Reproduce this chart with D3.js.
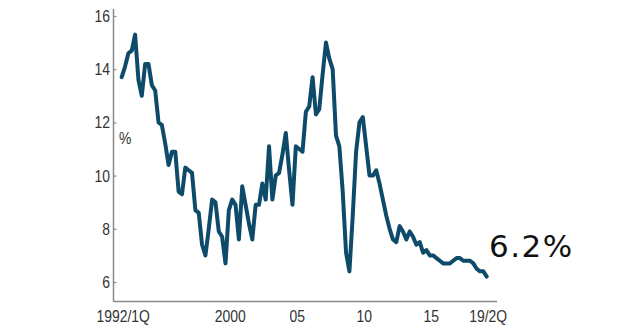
<!DOCTYPE html>
<html>
<head>
<meta charset="utf-8">
<script src="https://cdnjs.cloudflare.com/ajax/libs/d3/7.8.5/d3.min.js"></script>
<style>
  body { margin: 0; background: #fff; }
  .tick-label { font-family: "Liberation Sans", Arial, sans-serif; font-size: 17px; fill: #333; }
</style>
</head>
<body>
<div id="chart"></div>
<script>
// quarterly growth, % yoy, 1992/1Q .. 2019/2Q
var startYear = 1992;
var growth = [
  13.7, 14.1, 14.6, 14.7,   // 1992
  15.3, 13.6, 13.0, 14.2,   // 1993
  14.2, 13.4, 13.2, 12.0,   // 1994
  11.9, 11.2, 10.4, 10.9,   // 1995
  10.9, 9.4, 9.3, 10.3,     // 1996
  10.2, 10.1, 8.7, 8.6,     // 1997
  7.4, 7.0, 8.0, 9.1,       // 1998
  9.0, 7.9, 7.7, 6.7,       // 1999
  8.7, 9.1, 8.9, 7.6,       // 2000
  9.6, 8.9, 8.2, 7.6,       // 2001
  8.9, 8.9, 9.7, 9.1,       // 2002
  11.1, 9.1, 10.0, 10.1,    // 2003
  10.8, 11.6, 10.2, 8.9,    // 2004
  11.1, 11.0, 10.9, 12.4,   // 2005
  12.6, 13.7, 12.3, 12.5,   // 2006
  13.8, 15.0, 14.4, 14.0,   // 2007
  11.5, 11.1, 9.4, 7.1,     // 2008
  6.4, 8.5, 10.9, 12.0,     // 2009
  12.2, 11.1, 10.0, 10.0,   // 2010
  10.2, 9.7, 9.1, 8.5,      // 2011
  8.0, 7.6, 7.5, 8.1,       // 2012
  7.9, 7.6, 7.9, 7.7,       // 2013
  7.4, 7.5, 7.1, 7.2,       // 2014
  7.0, 7.0, 6.9, 6.8,       // 2015
  6.7, 6.7, 6.7, 6.8,       // 2016
  6.9, 6.9, 6.8, 6.8,       // 2017
  6.8, 6.7, 6.5, 6.4,       // 2018
  6.4, 6.2                  // 2019
];
var xTicks = [1992, 2000, 2005, 2010, 2015, 2019.25];
var xTickLabels = ["1992/1Q", "2000", "05", "10", "15", "19/2Q"];
var yTicks = [6, 8, 10, 12, 14, 16];
var lastLabel = "6.2%";

var width = 630, height = 331;
var squeeze = 0.82; // labels are set in a condensed face

var svg = d3.select("#chart").append("svg")
    .attr("width", width)
    .attr("height", height);

var x = d3.scaleLinear()
    .domain([startYear, 2019.25])
    .range([121.7, 486.7]);

var y = d3.scaleLinear()
    .domain([6, 16])
    .range([282, 16]);

var axisLeft = 113.5,
    axisBottom = 301.5;

// y axis
svg.append("line")
    .attr("x1", axisLeft).attr("x2", axisLeft)
    .attr("y1", 9).attr("y2", axisBottom)
    .attr("stroke", "#8a8a8a")
    .attr("stroke-width", 1.5);

var yAxis = d3.axisRight(y)
    .tickValues(yTicks)
    .tickSize(3)
    .tickPadding(0)
    .tickFormat("");

var yg = svg.append("g")
    .attr("transform", "translate(" + axisLeft + ",0)")
    .call(yAxis);
yg.select(".domain").remove();
yg.selectAll(".tick line").attr("stroke", "#8a8a8a").attr("stroke-width", 1.2);

svg.append("g").selectAll("text")
    .data(yTicks)
  .enter().append("text")
    .attr("class", "tick-label")
    .attr("transform", function(d) {
      return "translate(110," + (y(d) + 6) + ") scale(" + squeeze + ",1)";
    })
    .attr("text-anchor", "end")
    .text(function(d) { return d; });

svg.append("text")
    .attr("class", "tick-label")
    .attr("transform", "translate(119,144) scale(" + squeeze + ",1)")
    .text("%");

// x axis
svg.append("line")
    .attr("x1", axisLeft).attr("x2", 497)
    .attr("y1", axisBottom).attr("y2", axisBottom)
    .attr("stroke", "#8a8a8a")
    .attr("stroke-width", 1.5);

svg.append("g").selectAll("text")
    .data(xTicks)
  .enter().append("text")
    .attr("class", "tick-label")
    .attr("transform", function(d) {
      return "translate(" + (x(d) + 1.5) + ",321.5) scale(" + squeeze + ",1)";
    })
    .attr("text-anchor", "middle")
    .text(function(d, i) { return xTickLabels[i]; });

// line
var line = d3.line()
    .x(function(d, i) { return x(startYear + i / 4); })
    .y(function(d) { return y(d); });

svg.append("path")
    .datum(growth)
    .attr("fill", "none")
    .attr("stroke", "#0e4a6a")
    .attr("stroke-width", 4)
    .attr("stroke-linejoin", "round")
    .attr("stroke-linecap", "round")
    .attr("d", line);

svg.append("text")
    .attr("x", 489)
    .attr("y", 256.5)
    .attr("font-family", "DejaVu Sans, sans-serif")
    .attr("font-size", 31)
    .attr("letter-spacing", 1.5)
    .attr("fill", "#111")
    .text(lastLabel);
</script>
</body>
</html>
